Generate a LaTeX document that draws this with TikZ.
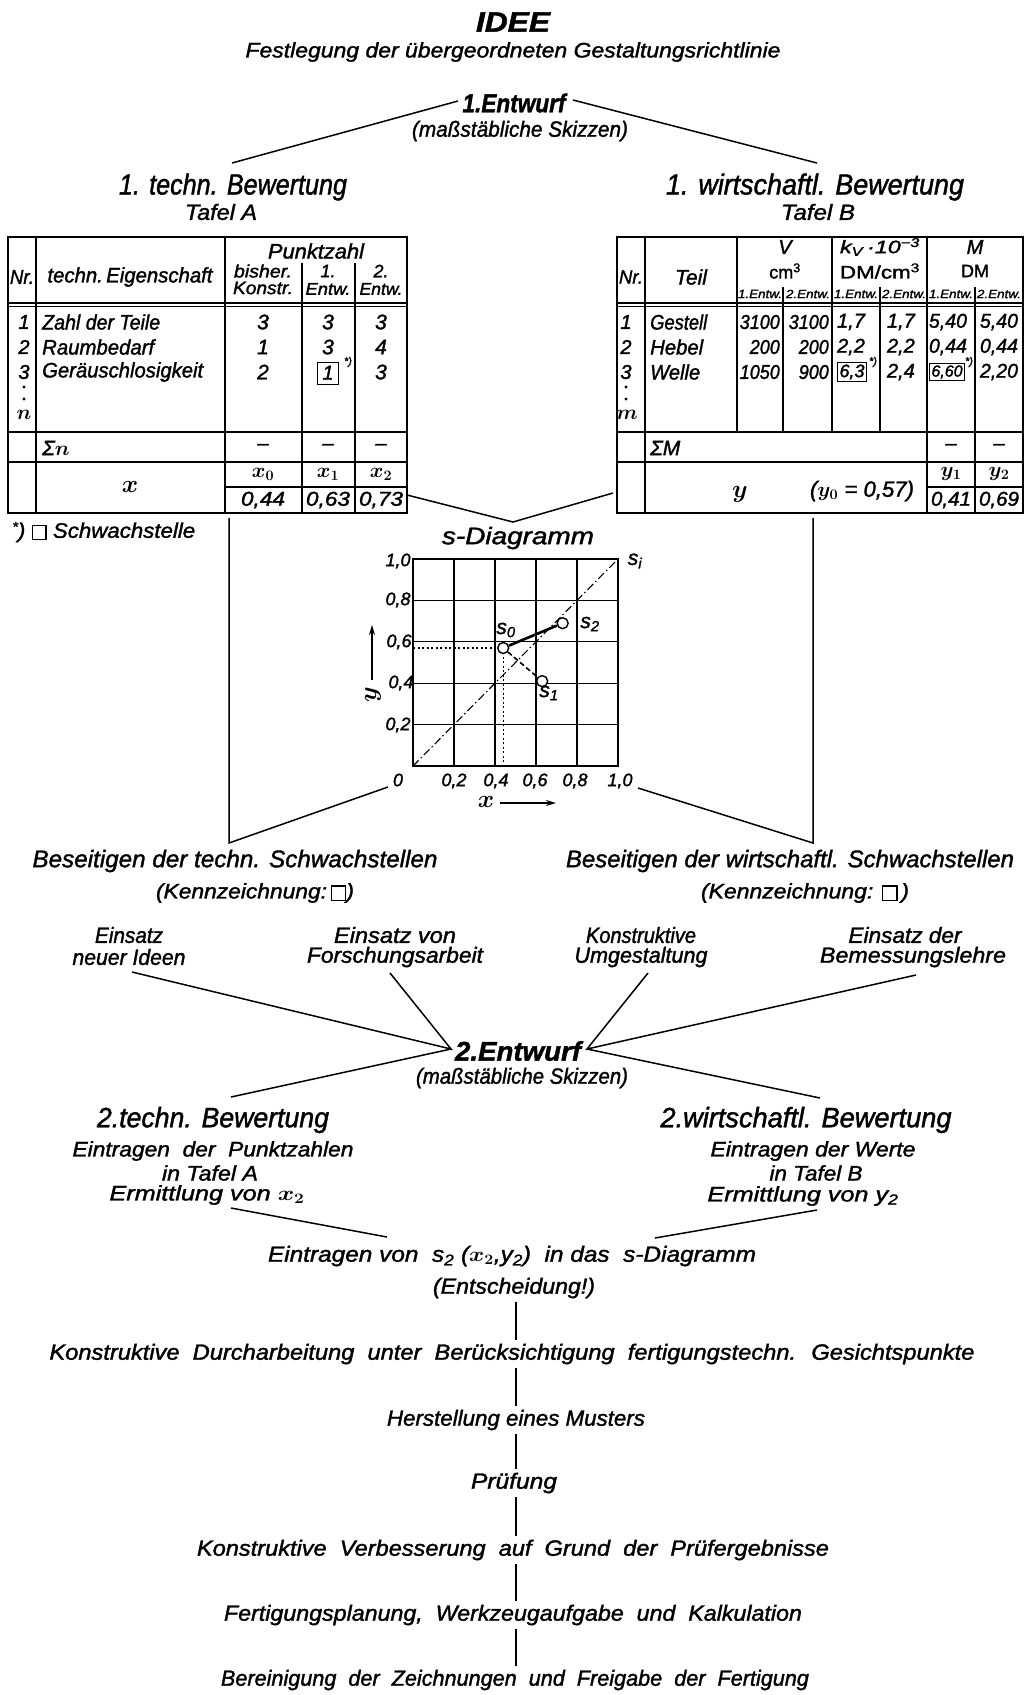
\documentclass[tikz,border=0pt]{standalone}
\usepackage{graphicx}
\usepackage{fontspec}
\setmainfont{Liberation Sans}[FakeBold=1.5]
\usetikzlibrary{arrows.meta}
\newcommand{\fsz}[1]{\fontsize{#1}{#1}\selectfont}
\newcommand{\wbox}[2]{\resizebox{#1pt}{\height}{#2}}
\newcommand{\sqmark}{\raisebox{-0.06em}{\setlength{\fboxsep}{0pt}\setlength{\fboxrule}{1.4pt}\fbox{\rule{0pt}{0.62em}\rule{0.55em}{0pt}}}}
\newcommand{\bxv}[1]{{\setlength{\fboxsep}{1.2pt}\setlength{\fboxrule}{0.9pt}\fbox{#1}}}
\newcommand{\bxw}[1]{{\setlength{\fboxsep}{2pt}\setlength{\fboxrule}{1pt}\fbox{\makebox[0.8em]{\rule[-0.1em]{0pt}{0.85em}#1}}}}
\begin{document}
\begin{tikzpicture}[x=1pt,y=-1pt,
  every node/.style={inner sep=0pt},
  tx/.style={font=\itshape\fsz{#1}},
  mx/.style={font=\itshape\fsz{#1}\boldmath},
  bd/.style={font=\bfseries\itshape\fsz{#1}},
  up/.style={font=\fsz{#1}},
  ln/.style={line width=1.5pt},
  fr/.style={line width=1.9pt},
  gl/.style={line width=1.2pt},
  chainnode/.style={inner sep=4pt}]
\useasboundingbox (0,0) rectangle (1024,1695);
\fill[white] (0,0) rectangle (1024,1695);

% ---------- top ----------
\node[bd=28] (idee) at (513,22) {\wbox{74}{IDEE}};
\node[tx=21] (festl) at (513,52) {\wbox{535}{Festlegung der übergeordneten Gestaltungsrichtlinie}};
\node[bd=26] (ent1) at (514,103) {\wbox{103}{1.Entwurf}};
\node[tx=22] (skz1) at (520,131) {\wbox{216}{(maßstäbliche Skizzen)}};
\node[tx=29] (tb1) at (233,187) {\wbox{228}{1. techn. Bewertung}};
\node[tx=22] (tafA) at (221,212) {\wbox{72}{Tafel A}};
\node[tx=29] (wb1) at (815,187) {\wbox{298}{1. wirtschaftl. Bewertung}};
\node[tx=22] (tafB) at (818,212) {\wbox{74}{Tafel B}};
\coordinate (e1l) at (458,101);
\coordinate (e1r) at (573,100);
\coordinate (tbtop) at (232,163);
\coordinate (wbtop) at (817,163);
\draw[ln] (e1l) -- (tbtop);
\draw[ln] (e1r) -- (wbtop);

% ---------- Table A ----------
\draw[fr] (8,237) rectangle (407,513);
\draw[gl] (36,237) -- (36,513);
\draw[gl] (225,237) -- (225,513);
\draw[gl] (302,263) -- (302,513);
\draw[gl] (355,263) -- (355,513);
\draw[gl] (8,303) -- (407,303);
\draw[gl] (8,306.5) -- (407,306.5);
\draw[gl] (8,432) -- (407,432);
\draw[gl] (8,462) -- (407,462);
\draw[gl] (225,487) -- (407,487);

\node[tx=20] (aNr) at (22,277) {\wbox{24}{Nr.}};
\node[tx=21] (aEig) at (130,277) {\wbox{165}{techn.\,Eigenschaft}};
\node[tx=21] (aPz) at (316,251) {\wbox{96}{Punktzahl}};
\node[tx=18] (aB1) at (263,271) {\wbox{58}{bisher.}};
\node[tx=18] (aB2) at (263,288) {\wbox{60}{Konstr.}};
\node[tx=18] (aE1a) at (328,271) {1.};
\node[tx=17] (aE1b) at (328,289) {\wbox{45}{Entw.}};
\node[tx=18] (aE2a) at (381,271) {2.};
\node[tx=17] (aE2b) at (381,289) {\wbox{43}{Entw.}};

\node[tx=20] (an1) at (24,322) {1};
\node[tx=20] (an2) at (24,347) {2};
\node[tx=20] (an3) at (24,372) {3};
\fill (24,387) circle (1.7);
\fill (24,399) circle (1.7);
\node[mx=21] (ann) at (24,415) {$n$};
\node[tx=21,anchor=west] (aname1) at (42,322) {\wbox{118}{Zahl der Teile}};
\node[tx=21,anchor=west] (aname2) at (42,347) {\wbox{112}{Raumbedarf}};
\node[tx=21,anchor=west] (aname3) at (42,372) {\wbox{161}{Geräuschlosigkeit}};
\node[tx=21] (av11) at (263,322) {3};
\node[tx=21] (av21) at (263,347) {1};
\node[tx=21] (av31) at (263,372) {2};
\node[tx=21] (av12) at (328,322) {3};
\node[tx=21] (av22) at (328,347) {3};
\node[tx=20] (av32) at (328,373) {\bxw{1}};
\node[tx=11] (astar) at (348,362) {*)};
\node[tx=21] (av13) at (381,322) {3};
\node[tx=21] (av23) at (381,347) {4};
\node[tx=21] (av33) at (381,372) {3};
\node[mx=21,anchor=west] (asum) at (42,448) {Σ$n$};
\node[tx=20] (ad1) at (263,447) {–};
\node[tx=20] (ad2) at (328,447) {–};
\node[tx=20] (ad3) at (381,447) {–};
\node[mx=23] (ax) at (130,487) {$x$};
\node[mx=22] (ax0) at (263,474) {$x_0$};
\node[mx=22] (ax1) at (328,474) {$x_1$};
\node[mx=22] (ax2) at (381,474) {$x_2$};
\node[tx=20] (axv0) at (263,500) {\wbox{44}{0,44}};
\node[tx=20] (axv1) at (328,500) {\wbox{44}{0,63}};
\node[tx=20] (axv2) at (381,500) {\wbox{44}{0,73}};
\node[tx=21,anchor=west] (foot) at (12,532) {\wbox{183}{\raisebox{0.3em}{\fsz{14}*}) \sqmark\ Schwachstelle}};

% ---------- Table B ----------
\draw[fr] (617,237) rectangle (1023,513);
\draw[gl] (645,237) -- (645,513);
\draw[gl] (737,237) -- (737,432);
\draw[gl] (783,287) -- (783,432);
\draw[gl] (832,237) -- (832,432);
\draw[gl] (880,287) -- (880,432);
\draw[gl] (927,237) -- (927,513);
\draw[gl] (975,287) -- (975,513);
\draw[gl] (617,303) -- (1023,303);
\draw[gl] (617,306.5) -- (1023,306.5);
\draw[gl] (617,432) -- (1023,432);
\draw[gl] (617,462) -- (1023,462);
\draw[gl] (927,487) -- (1023,487);

\node[tx=19] (bNr) at (631,277) {\wbox{24}{Nr.}};
\node[tx=21] (bTeil) at (691,277) {Teil};
\node[tx=20] (bV) at (785,247) {V};
\node[up=18] (bVu) at (785,271) {cm\textsuperscript{3}};
\node[tx=18] (bK) at (880,247) {\wbox{80}{k\textsubscript{V}\,·10\textsuperscript{−3}}};
\node[up=18] (bKu) at (880,271) {\wbox{80}{DM/cm\textsuperscript{3}}};
\node[tx=20] (bM) at (975,247) {M};
\node[up=18] (bMu) at (975,271) {DM};
\node[tx=12] (bh1) at (760,294) {\wbox{44}{1.Entw.}};
\node[tx=12] (bh2) at (808,294) {\wbox{44}{2.Entw.}};
\node[tx=12] (bh3) at (856,294) {\wbox{44}{1.Entw.}};
\node[tx=12] (bh4) at (904,294) {\wbox{44}{2.Entw.}};
\node[tx=12] (bh5) at (951,294) {\wbox{44}{1.Entw.}};
\node[tx=12] (bh6) at (999,294) {\wbox{44}{2.Entw.}};

\node[tx=20] (bn1) at (626,322) {1};
\node[tx=20] (bn2) at (626,347) {2};
\node[tx=20] (bn3) at (626,372) {3};
\fill (626,387) circle (1.7);
\fill (626,399) circle (1.7);
\node[mx=21] (bnm) at (627,415) {$m$};
\node[tx=21,anchor=west] (bname1) at (650,322) {\wbox{57}{Gestell}};
\node[tx=21,anchor=west] (bname2) at (650,347) {\wbox{53}{Hebel}};
\node[tx=21,anchor=west] (bname3) at (650,372) {\wbox{50}{Welle}};
\node[tx=20,anchor=east] (bv11) at (780,322) {\wbox{40}{3100}};
\node[tx=20,anchor=east] (bv21) at (780,347) {\wbox{30}{200}};
\node[tx=20,anchor=east] (bv31) at (780,372) {\wbox{40}{1050}};
\node[tx=20,anchor=east] (bv12) at (829,322) {\wbox{40}{3100}};
\node[tx=20,anchor=east] (bv22) at (829,347) {\wbox{30}{200}};
\node[tx=20,anchor=east] (bv32) at (829,372) {\wbox{30}{900}};
\node[tx=20] (bk11) at (851,322) {1,7};
\node[tx=20] (bk21) at (851,347) {2,2};
\node[tx=18] (bk31) at (852,372) {\bxv{6,3}};
\node[tx=11] (bstar1) at (873,362) {*)};
\node[tx=20,anchor=east] (bk12) at (915,322) {1,7};
\node[tx=20,anchor=east] (bk22) at (915,347) {2,2};
\node[tx=20,anchor=east] (bk32) at (915,372) {2,4};
\node[tx=20] (bm11) at (948,322) {\wbox{38}{5,40}};
\node[tx=20] (bm21) at (948,347) {\wbox{38}{0,44}};
\node[tx=16] (bm31) at (947,372) {\bxv{6,60}};
\node[tx=11] (bstar2) at (969,362) {*)};
\node[tx=20] (bm12) at (999,322) {\wbox{38}{5,40}};
\node[tx=20] (bm22) at (999,347) {\wbox{38}{0,44}};
\node[tx=20] (bm32) at (999,372) {\wbox{38}{2,20}};
\node[tx=21,anchor=west] (bsum) at (650,448) {ΣM};
\node[tx=20] (bd1) at (951,447) {–};
\node[tx=20] (bd2) at (999,447) {–};
\node[mx=23] (by) at (740,494) {$y$};
\node[mx=22] (by0) at (862,491) {\wbox{104}{($y_0$ = 0,57)}};
\node[mx=22] (by1) at (951,474) {$y_1$};
\node[mx=22] (by2) at (999,474) {$y_2$};
\node[tx=20] (byv1) at (951,500) {\wbox{40}{0,41}};
\node[tx=20] (byv2) at (999,500) {\wbox{40}{0,69}};

% ---------- s-Diagramm ----------
\node[tx=24] (sdt) at (518,538) {\wbox{152}{s-Diagramm}};
\coordinate (tAr) at (407,495);
\coordinate (sdApex) at (513,522);
\coordinate (tBl) at (613,493);
\draw[ln] (tAr) -- (sdApex) -- (tBl);

\begin{scope}[shift={(413,766)},x=205pt,y=207pt]
  \foreach \v in {0.2,0.4,0.6,0.8} {
    \draw[gl] (\v,0) -- (\v,1);
    \draw[gl] (0,\v) -- (1,\v);
  }
  \draw[fr] (0,0) rectangle (1,1);
  \draw[line width=1.1pt, dash pattern=on 8pt off 3pt on 1.5pt off 3pt] (0,0) -- (1,1);
  \draw[line width=1.2pt, dash pattern=on 2pt off 2.5pt] (0,0.57) -- (0.44,0.57) -- (0.44,0);
  \node[circle,draw,fill=white,line width=1.4pt,minimum size=11pt] (c0) at (0.44,0.57) {};
  \node[circle,draw,fill=white,line width=1.4pt,minimum size=11pt] (c1) at (0.63,0.41) {};
  \node[circle,draw,fill=white,line width=1.4pt,minimum size=11pt] (c2) at (0.73,0.69) {};
\end{scope}
\draw[line width=2.6pt] (c0) -- (c2);
\draw[line width=1.6pt, dash pattern=on 5pt off 3pt] (c0) -- (c1);
\node[tx=21] (ls0) at (506,630) {s\textsubscript{0}};
\node[tx=21] (ls1) at (549,693) {s\textsubscript{1}};
\node[tx=21] (ls2) at (590,624) {s\textsubscript{2}};
\node[tx=21] (lsi) at (635,561) {s\textsubscript{i}};

\node[tx=18] (yt10) at (398,561) {1,0};
\node[tx=18] (yt08) at (398,600) {0,8};
\node[tx=18] (yt06) at (399,642) {0,6};
\node[tx=18] (yt04) at (401,683) {0,4};
\node[tx=18] (yt02) at (398,725) {0,2};
\node[tx=18] (xt0) at (398,780) {0};
\node[tx=18] (xt02) at (454,781) {0,2};
\node[tx=18] (xt04) at (496,781) {0,4};
\node[tx=18] (xt06) at (535,781) {0,6};
\node[tx=18] (xt08) at (575,781) {0,8};
\node[tx=18] (xt10) at (620,781) {1,0};
\coordinate (yarA) at (372,680);
\coordinate (yarB) at (372,625);
\draw[line width=1.8pt,-{Stealth[length=10pt,width=6pt]}] (yarA) -- (yarB);
\node[mx=23,rotate=90] (ylab) at (373,695) {$y$};
\node[mx=23] (xlab) at (486,802) {$x$};
\coordinate (xarA) at (500,803);
\coordinate (xarB) at (556,803);
\draw[line width=1.8pt,-{Stealth[length=10pt,width=6pt]}] (xarA) -- (xarB);

% side branches
\coordinate (vA1) at (229,518);
\coordinate (vA2) at (229,843);
\coordinate (dA) at (388,787);
\coordinate (vB1) at (813,518);
\coordinate (vB2) at (813,843);
\coordinate (dB) at (638,788);
\draw[ln] (vA1) -- (vA2) -- (dA);
\draw[ln] (vB1) -- (vB2) -- (dB);

% ---------- Beseitigen ----------
\node[tx=24] (bes1) at (235,861) {\wbox{405}{Beseitigen der techn. Schwachstellen}};
\node[tx=21] (kz1) at (255,893) {\wbox{198}{(Kennzeichnung:\,\sqmark)}};
\node[tx=24] (bes2) at (790,861) {\wbox{448}{Beseitigen der wirtschaftl. Schwachstellen}};
\node[tx=21] (kz2) at (805,893) {\wbox{208}{(Kennzeichnung: \sqmark\,)}};

% ---------- Einsatz ----------
\node[tx=22] (ein1a) at (129,935) {\wbox{68}{Einsatz}};
\node[tx=22] (ein1b) at (129,957) {\wbox{113}{neuer Ideen}};
\node[tx=22] (ein2a) at (395,935) {\wbox{122}{Einsatz von}};
\node[tx=22] (ein2b) at (395,957) {\wbox{176}{Forschungsarbeit}};
\node[tx=22] (ein3a) at (641,935) {\wbox{110}{Konstruktive}};
\node[tx=22] (ein3b) at (641,957) {\wbox{133}{Umgestaltung}};
\node[tx=22] (ein4a) at (905,935) {\wbox{113}{Einsatz der}};
\node[tx=22] (ein4b) at (913,957) {\wbox{186}{Bemessungslehre}};

\node[bd=27] (ent2) at (518,1051) {\wbox{126}{2.Entwurf}};
\node[tx=22] (skz2) at (522,1078) {\wbox{212}{(maßstäbliche Skizzen)}};
\coordinate (e2l) at (451,1049);
\coordinate (e2r) at (587,1049);
\coordinate (c1p) at (132,972);
\coordinate (c2p) at (390,973);
\coordinate (c3p) at (648,973);
\coordinate (c4p) at (916,975);
\coordinate (c5p) at (231,1097);
\coordinate (c6p) at (820,1098);
\draw[ln] (c1p) -- (e2l) -- (c2p);
\draw[ln] (e2l) -- (c5p);
\draw[ln] (c3p) -- (e2r) -- (c4p);
\draw[ln] (e2r) -- (c6p);

% ---------- 2. Bewertung ----------
\node[tx=28] (tb2) at (213,1120) {\wbox{232}{2.techn. Bewertung}};
\node[tx=21] (tb2a) at (213,1151) {\wbox{281}{Eintragen \ der \ Punktzahlen}};
\node[tx=21] (tb2b) at (210,1173) {\wbox{96}{in Tafel A}};
\node[tx=21] (tb2c) at (207,1195) {\wbox{195}{Ermittlung von {\boldmath$x_2$}}};
\node[tx=28] (wb2) at (806,1120) {\wbox{291}{2.wirtschaftl. Bewertung}};
\node[tx=21] (wb2a) at (813,1151) {\wbox{205}{Eintragen der Werte}};
\node[tx=21] (wb2b) at (816,1173) {\wbox{93}{in Tafel B}};
\node[tx=21] (wb2c) at (803,1196) {\wbox{191}{Ermittlung von y\textsubscript{2}}};
\coordinate (l1a) at (231,1208);
\coordinate (l1b) at (387,1237);
\coordinate (r1a) at (817,1210);
\coordinate (r1b) at (655,1238);
\draw[ln] (l1a) -- (l1b);
\draw[ln] (r1a) -- (r1b);

\node[tx=22] (eintr) at (512,1256) {\wbox{488}{Eintragen von \ s\textsubscript{2} ({\boldmath$x_2$},y\textsubscript{2}) \ in das \ s-Diagramm}};
\node[tx=22,chainnode] (entsch) at (514,1288) {\wbox{162}{(Entscheidung!)}};

% ---------- chain ----------
\coordinate (axc) at (516,0);
\node[tx=22,chainnode] (k1) at (512,1354) {\wbox{925}{Konstruktive \ Durcharbeitung \ unter \ Berücksichtigung \ fertigungstechn. \ Gesichtspunkte}};
\node[tx=22,chainnode] (k2) at (516,1420) {\wbox{258}{Herstellung eines Musters}};
\node[tx=22,chainnode] (k3) at (514,1483) {\wbox{86}{Prüfung}};
\node[tx=22,chainnode] (k4) at (513,1550) {\wbox{632}{Konstruktive \ Verbesserung \ auf \ Grund \ der \ Prüfergebnisse}};
\node[tx=22,chainnode] (k5) at (513,1615) {\wbox{578}{Fertigungsplanung, \ Werkzeugaufgabe \ und \ Kalkulation}};
\node[tx=22,chainnode] (k6) at (515,1680) {\wbox{588}{Bereinigung \ der \ Zeichnungen \ und \ Freigabe \ der \ Fertigung}};
\draw[ln] (entsch.south -| axc) -- (k1.north -| axc);
\draw[ln] (k1.south -| axc) -- (k2.north -| axc);
\draw[ln] (k2.south -| axc) -- (k3.north -| axc);
\draw[ln] (k3.south -| axc) -- (k4.north -| axc);
\draw[ln] (k4.south -| axc) -- (k5.north -| axc);
\draw[ln] (k5.south -| axc) -- (k6.north -| axc);
\end{tikzpicture}
\end{document}
